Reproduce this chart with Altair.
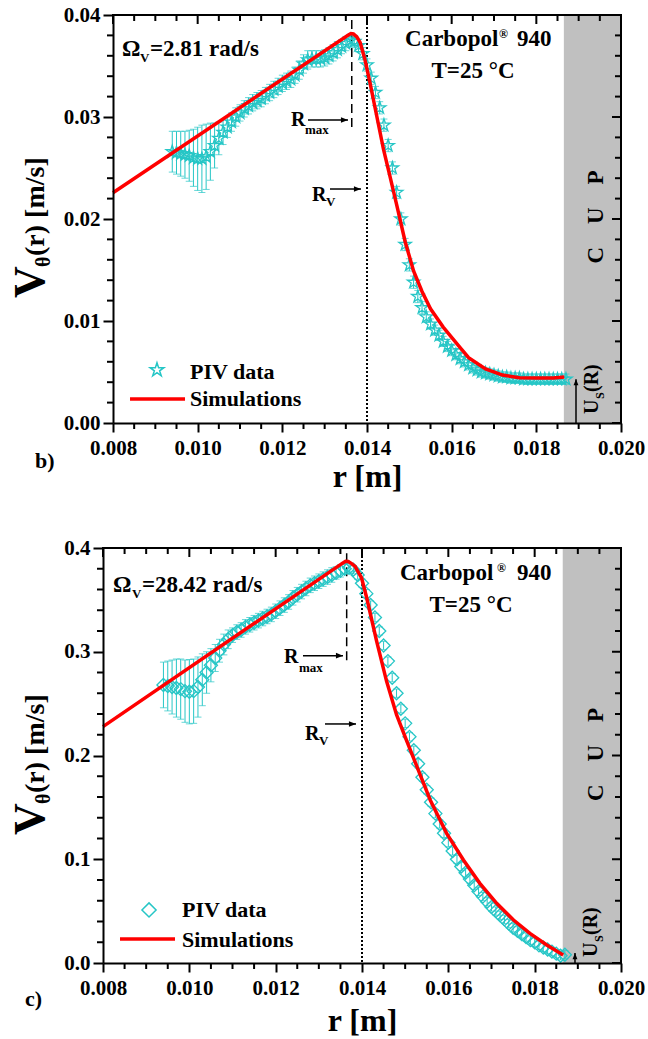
import altair as alt
import pandas as pd

FONT = "Liberation Serif"
CYAN = "#26c6c6"
RED = "#ff0000"
GRAY = "#c0c0c0"
SP = "\u2002\u2002"

# ---------------- data ----------------
r_piv = [0.0094, 0.0095, 0.0096, 0.0097, 0.0098, 0.0099, 0.0100, 0.0101, 0.0102, 0.0103,
         0.0104, 0.0105, 0.0106, 0.0107, 0.0108, 0.0109, 0.0110, 0.0111, 0.0112, 0.0113,
         0.0114, 0.0115, 0.0116, 0.0117, 0.0118, 0.0119, 0.0120, 0.0121, 0.0122, 0.0123,
         0.0124, 0.0125, 0.0126, 0.0127, 0.0128, 0.0129, 0.0130, 0.0131, 0.0132, 0.0133,
         0.0134, 0.0135, 0.0136, 0.0137, 0.0138, 0.0139, 0.0140, 0.0141, 0.0142, 0.0143,
         0.0144, 0.0145, 0.0146, 0.0147, 0.0148, 0.0149, 0.0150, 0.0151, 0.0152, 0.0153,
         0.0154, 0.0155, 0.0156, 0.0157, 0.0158, 0.0159, 0.0160, 0.0161, 0.0162, 0.0163,
         0.0164, 0.0165, 0.0166, 0.0167, 0.0168, 0.0169, 0.0170, 0.0171, 0.0172, 0.0173,
         0.0174, 0.0175, 0.0176, 0.0177, 0.0178, 0.0179, 0.0180, 0.0181, 0.0182, 0.0183,
         0.0184, 0.0185, 0.0186, 0.0187]

# panel b) : Omega = 2.81 rad/s
v_piv_b = [0.0266, 0.0265, 0.0264, 0.0263, 0.0262, 0.0260, 0.0259, 0.0259, 0.0261, 0.0266,
           0.0272, 0.0279, 0.0285, 0.0290, 0.0295, 0.0300, 0.0304, 0.0308, 0.0311, 0.0314,
           0.0316, 0.0318, 0.0321, 0.0324, 0.0327, 0.0330, 0.0333, 0.0335, 0.0337, 0.0341,
           0.0346, 0.0352, 0.0356, 0.0357, 0.0357, 0.0357, 0.0358, 0.0360, 0.0363, 0.0366,
           0.0369, 0.0372, 0.0375, 0.0374, 0.0370, 0.0362, 0.0351, 0.0338, 0.0324, 0.0309,
           0.0292, 0.0272, 0.0250, 0.0226, 0.0200, 0.0175, 0.0155, 0.0138, 0.0124, 0.0113,
           0.0104, 0.0097, 0.0091, 0.0086, 0.0080, 0.0075, 0.0071, 0.0067, 0.0063, 0.0060,
           0.0057, 0.0054, 0.0052, 0.0050, 0.0049, 0.0048, 0.0047, 0.0046, 0.0045, 0.0045,
           0.0044, 0.0044, 0.0044, 0.0043, 0.0043, 0.0043, 0.0043, 0.0043, 0.0043, 0.0043,
           0.0043, 0.0043, 0.0043, 0.0043]
e_piv_b = [0.0020, 0.0021, 0.0022, 0.0023, 0.0025, 0.0028, 0.0031, 0.0033, 0.0032, 0.0028,
           0.0022, 0.0016, 0.0012, 0.0010, 0.0009, 0.0009, 0.0008, 0.0008, 0.0008, 0.0008,
           0.0008, 0.0008, 0.0008, 0.0008, 0.0008, 0.0008, 0.0008, 0.0008, 0.0008, 0.0008,
           0.0009, 0.0009, 0.0009, 0.0008, 0.0008, 0.0008, 0.0008, 0.0008, 0.0008, 0.0008,
           0.0007, 0.0007, 0.0006, 0.0006, 0.0006, 0.0006, 0.0006, 0.0006, 0.0006, 0.0006,
           0.0006, 0.0006, 0.0006, 0.0006, 0.0006, 0.0006, 0.0006, 0.0006, 0.0006, 0.0006,
           0.0005, 0.0005, 0.0005, 0.0005, 0.0005, 0.0005, 0.0005, 0.0005, 0.0005, 0.0005,
           0.0005, 0.0005, 0.0005, 0.0005, 0.0005, 0.0005, 0.0005, 0.0005, 0.0005, 0.0005,
           0.0005, 0.0005, 0.0005, 0.0005, 0.0005, 0.0005, 0.0005, 0.0005, 0.0005, 0.0005,
           0.0005, 0.0005, 0.0005, 0.0005]
r_sim_b = [0.0080, 0.01355, 0.01362, 0.01368, 0.01376, 0.01384, 0.01395, 0.01407, 0.01423,
           0.01439, 0.01454, 0.01470, 0.01490, 0.01510, 0.01530, 0.01550, 0.01580, 0.01620,
           0.01640, 0.01680, 0.01720, 0.01760, 0.01800, 0.01840, 0.01866]
v_sim_b = [0.02258, 0.03802, 0.03818, 0.03815, 0.03785, 0.03728, 0.03565, 0.03336, 0.03010,
           0.02683, 0.02422, 0.02140, 0.01780, 0.01490, 0.01290, 0.01120, 0.00940, 0.00740,
           0.00640, 0.00530, 0.00470, 0.00444, 0.00440, 0.00442, 0.00450]

# panel c) : Omega = 28.42 rad/s
v_piv_c = [0.268, 0.267, 0.266, 0.265, 0.264, 0.262, 0.2615, 0.262, 0.266, 0.273,
           0.280, 0.287, 0.294, 0.301, 0.307, 0.312, 0.316, 0.319, 0.321, 0.324,
           0.326, 0.328, 0.330, 0.332, 0.334, 0.336, 0.339, 0.342, 0.345, 0.348,
           0.352, 0.355, 0.358, 0.361, 0.364, 0.366, 0.368, 0.370, 0.372, 0.374,
           0.376, 0.378, 0.380, 0.381, 0.379, 0.374, 0.366, 0.356, 0.345, 0.333,
           0.320, 0.306, 0.291, 0.275, 0.260, 0.245, 0.231, 0.218, 0.205, 0.192,
           0.179, 0.167, 0.155, 0.144, 0.134, 0.125, 0.116, 0.108, 0.100, 0.093,
           0.087, 0.081, 0.075, 0.069, 0.064, 0.059, 0.054, 0.050, 0.046, 0.042,
           0.038, 0.034, 0.031, 0.028, 0.025, 0.022, 0.020, 0.017, 0.015, 0.013,
           0.011, 0.009, 0.007, 0.008]
e_piv_c = [0.022, 0.024, 0.026, 0.028, 0.029, 0.030, 0.031, 0.031, 0.029, 0.025,
           0.020, 0.016, 0.013, 0.011, 0.010, 0.009, 0.007, 0.007, 0.007, 0.007,
           0.007, 0.007, 0.007, 0.007, 0.007, 0.007, 0.007, 0.007, 0.007, 0.007,
           0.007, 0.007, 0.007, 0.007, 0.007, 0.007, 0.007, 0.007, 0.007, 0.007,
           0.006, 0.006, 0.005, 0.004, 0.004, 0.004, 0.004, 0.004, 0.004, 0.004,
           0.004, 0.004, 0.004, 0.004, 0.004, 0.004, 0.004, 0.004, 0.004, 0.004,
           0.004, 0.004, 0.004, 0.004, 0.004, 0.004, 0.004, 0.004, 0.004, 0.004,
           0.004, 0.004, 0.004, 0.004, 0.004, 0.004, 0.004, 0.004, 0.004, 0.004,
           0.004, 0.004, 0.004, 0.004, 0.004, 0.004, 0.004, 0.004, 0.004, 0.004,
           0.004, 0.004, 0.004, 0.004]
r_sim_c = [0.0080, 0.01355, 0.01362, 0.01368, 0.01376, 0.01384, 0.01399, 0.01411, 0.01434,
           0.01457, 0.01480, 0.01504, 0.01527, 0.01558, 0.01596, 0.01635, 0.01673, 0.01712,
           0.01751, 0.01789, 0.01828, 0.01866]
v_sim_c = [0.2278, 0.3854, 0.3872, 0.3870, 0.3850, 0.3823, 0.3711, 0.3518, 0.3100,
           0.2715, 0.2393, 0.2137, 0.1896, 0.1571, 0.1250, 0.0993, 0.0768, 0.0575,
           0.0414, 0.0286, 0.0173, 0.0077]

# ticks
x_major = [0.008, 0.010, 0.012, 0.014, 0.016, 0.018, 0.020]
x_minor = [0.0085, 0.0090, 0.0095, 0.0105, 0.0110, 0.0115, 0.0125, 0.0130, 0.0135,
           0.0145, 0.0150, 0.0155, 0.0165, 0.0170, 0.0175, 0.0185, 0.0190, 0.0195]
y_major_b = [0.00, 0.01, 0.02, 0.03, 0.04]
y_minor_b = [0.002, 0.004, 0.006, 0.008, 0.012, 0.014, 0.016, 0.018,
             0.022, 0.024, 0.026, 0.028, 0.032, 0.034, 0.036, 0.038]
y_major_c = [0.0, 0.1, 0.2, 0.3, 0.4]
y_minor_c = [0.02, 0.04, 0.06, 0.08, 0.12, 0.14, 0.16, 0.18,
             0.22, 0.24, 0.26, 0.28, 0.32, 0.34, 0.36, 0.38]

R_wall = 0.01865
R_V = 0.014

STAR = ("M0,-1L0.2245,-0.309L0.951,-0.309L0.363,0.118L0.588,0.809L0,0.382"
        "L-0.588,0.809L-0.363,0.118L-0.951,-0.309L-0.2245,-0.309Z")
HEAD_R = "M0,0L-1,-0.4L-1,0.4Z"
HEAD_U = "M0,0L-0.4,1L0.4,1Z"


def make_panel(x0, W, H, ydom, ymaj, ymin, yfmt, vpiv, epiv, rsim, vsim, shape, symsize,
               cap, ann):
    # x0: left edge of the plot frame inside the panel group
    xs = alt.Scale(domain=[0.008, 0.020], nice=False, zero=False, range=[x0, W])
    ys = alt.Scale(domain=ydom, nice=False, zero=False)
    xax = alt.Axis(values=x_major, format=".3f", title="r [m]", titleY=ann["titleY"],
                   titleBaseline="alphabetic", titleFont=FONT, titleFontSize=32,
                   titleFontWeight="bold", titleColor="black",
                   labelFont=FONT, labelFontSize=21, labelFontWeight="bold",
                   labelColor="black", labelPadding=5, labelFlush=False,
                   tickSize=9, tickWidth=2, tickColor="black", domainColor="black",
                   domainWidth=2, grid=False, zindex=1)
    ykw = dict(values=ymaj, format=yfmt, title=None,
               labelFont=FONT, labelFontSize=21, labelFontWeight="bold",
               labelColor="black", labelPadding=3, labelFlush=False,
               tickSize=10, tickWidth=2, tickColor="black", domainColor="black",
               domainWidth=2, grid=False, zindex=1)
    if x0:
        ykw["offset"] = -x0
    yax = alt.Axis(**ykw)

    def X(f):
        return alt.X(f, type="quantitative", scale=xs, axis=xax)

    def Y(f):
        return alt.Y(f, type="quantitative", scale=ys, axis=yax)

    def dtext(txt, r, v, size, angle=0, align="left", baseline="alphabetic"):
        return alt.Chart(pd.DataFrame({"r": [r], "v": [v], "t": [txt]})).mark_text(
            font=FONT, fontWeight="bold", fontSize=size, angle=angle, align=align,
            baseline=baseline, color="black").encode(x=X("r"), y=Y("v"), text="t:N")

    def ptext(txt, x, y, size, angle=0):
        return alt.Chart(pd.DataFrame({"t": [txt]})).mark_text(
            font=FONT, fontWeight="bold", fontSize=size, angle=angle, align="left",
            baseline="alphabetic", color="black").encode(
            x=alt.value(x0 + x), y=alt.value(y), text="t:N")

    def symbols(df, size, sw):
        return alt.Chart(df).mark_point(
            shape=shape, size=size, filled=False, color=CYAN, strokeWidth=sw,
            opacity=1).encode(x=X("r"), y=Y("v"))

    def harrow(r0, r1, v):
        line = alt.Chart(pd.DataFrame({"r": [r0], "r2": [r1], "v": [v]})).mark_rule(
            color="black", strokeWidth=1.5).encode(x=X("r"), x2="r2", y=Y("v"))
        head = alt.Chart(pd.DataFrame({"r": [r1], "v": [v]})).mark_point(
            shape=HEAD_R, size=200, filled=True, color="black", opacity=1,
            strokeWidth=0).encode(x=X("r"), y=Y("v"))
        return [line, head]

    piv = pd.DataFrame({"r": r_piv, "v": vpiv, "e": epiv})
    piv["lo"] = piv["v"] - piv["e"]
    piv["hi"] = piv["v"] + piv["e"]
    sim = pd.DataFrame({"r": rsim, "v": vsim})

    layers = []
    layers.append(alt.Chart(pd.DataFrame({"r": [R_wall], "r2": [0.020]})).mark_rect(
        color=GRAY).encode(x=X("r"), x2="r2", y=alt.value(0), y2=alt.value(H)))
    layers.append(alt.Chart(pd.DataFrame({"r": [R_V]})).mark_rule(
        color="black", strokeWidth=2, strokeDash=[2, 2]).encode(
        x=X("r"), y=alt.value(0), y2=alt.value(H)))
    layers.append(alt.Chart(pd.DataFrame({"r": [ann["rmax"]], "v": [ann["dash"][0]],
                                          "v2": [ann["dash"][1]]})).mark_rule(
        color="black", strokeWidth=1.5, strokeDash=[9, 5]).encode(
        x=X("r"), y=Y("v"), y2="v2"))
    layers.append(alt.Chart(piv).mark_rule(color=CYAN, strokeWidth=1).encode(
        x=X("r"), y=Y("lo"), y2="hi"))
    layers.append(alt.Chart(piv).mark_tick(color=CYAN, orient="horizontal", size=cap,
                                           thickness=1).encode(x=X("r"), y=Y("lo")))
    layers.append(alt.Chart(piv).mark_tick(color=CYAN, orient="horizontal", size=cap,
                                           thickness=1).encode(x=X("r"), y=Y("hi")))
    layers.append(symbols(piv, symsize, 1.3))
    layers.append(alt.Chart(sim).mark_line(color=RED, strokeWidth=3.5).encode(
        x=X("r"), y=Y("v")))

    lg = ann["legend"]
    layers.append(symbols(pd.DataFrame({"r": [lg["sym"][0]], "v": [lg["sym"][1]]}),
                          lg["symsize"], 1.5))
    layers.append(dtext("PIV data", lg["txt_r"], lg["piv_v"], 22))
    layers.append(alt.Chart(pd.DataFrame({"r": [lg["line"][0]], "r2": [lg["line"][1]],
                                          "v": [lg["line"][2]]})).mark_rule(
        color=RED, strokeWidth=3.5).encode(x=X("r"), x2="r2", y=Y("v")))
    layers.append(dtext("Simulations", lg["txt_r"], lg["sim_v"], 22))

    om = ann["omega"]
    layers.append(dtext("\u03a9", om[0], om[3], 23))
    layers.append(dtext("V", om[1], om[4], 13))
    layers.append(dtext(om[5], om[2], om[3], 23))
    cb = ann["carb"]
    layers.append(dtext("Carbopol", cb[0], cb[3], 23))
    layers.append(dtext("\u00ae", cb[1], cb[4], 12))
    layers.append(dtext("940", cb[2], cb[3], 23))
    layers.append(dtext("T=25 \u00b0C", cb[5], cb[6], 23, align="center"))
    rm = ann["rmaxlab"]
    layers.append(dtext("R", rm[0], rm[2], 20))
    layers.append(dtext("max", rm[1], rm[3], 13))
    layers += harrow(rm[4], rm[5], rm[6])
    rv = ann["rvlab"]
    layers.append(dtext("R", rv[0], rv[2], 20))
    layers.append(dtext("V", rv[1], rv[3], 13))
    layers += harrow(rv[4], rv[5], rv[6])
    cu = ann["cup"]
    layers.append(dtext("C" + SP + "U" + SP + "P", cu[0], cu[1], 23, angle=270,
                        align="center"))
    us = ann["us"]
    layers.append(dtext("U", us[0], us[1], 20, angle=270))
    layers.append(dtext("S", us[2], us[3], 12, angle=270))
    layers.append(dtext("(R)", us[0], us[4], 20, angle=270))
    layers.append(alt.Chart(pd.DataFrame({"r": [us[5]], "v": [ydom[0]], "v2": [us[6]]})).mark_rule(
        color="black", strokeWidth=1.5).encode(x=X("r"), y=Y("v"), y2="v2"))
    layers.append(alt.Chart(pd.DataFrame({"r": [us[5]], "v": [us[6]]})).mark_point(
        shape=HEAD_U, size=150, filled=True, color="black", opacity=1,
        strokeWidth=0).encode(x=X("r"), y=Y("v")))

    xt = pd.DataFrame({"t": x_major + x_minor,
                       "len": [9] * len(x_major) + [6] * len(x_minor)})
    yt = pd.DataFrame({"t": ymaj + ymin,
                       "len": [9] * len(ymaj) + [6] * len(ymin)})
    layers.append(alt.Chart(pd.DataFrame({"t": x_minor})).mark_rule(
        color="black", strokeWidth=2).encode(x=X("t"), y=alt.value(H), y2=alt.value(H + 6)))
    layers.append(alt.Chart(pd.DataFrame({"t": ymin})).mark_rule(
        color="black", strokeWidth=2).encode(y=Y("t"), x=alt.value(x0), x2=alt.value(x0 - 6)))
    for ln in (9, 6):
        layers.append(alt.Chart(xt[xt["len"] == ln]).mark_rule(color="black", strokeWidth=2).encode(
            x=X("t"), y=alt.value(0), y2=alt.value(ln)))
        layers.append(alt.Chart(yt[yt["len"] == ln]).mark_rule(color="black", strokeWidth=2).encode(
            y=Y("t"), x=alt.value(W), x2=alt.value(W - ln)))
    layers.append(alt.Chart(pd.DataFrame({"t": [0]})).mark_rule(color="black", strokeWidth=2).encode(
        x=alt.value(W), y=alt.value(-1), y2=alt.value(H + 1)))
    layers.append(alt.Chart(pd.DataFrame({"t": [0]})).mark_rule(color="black", strokeWidth=2).encode(
        x=alt.value(x0 - 1), x2=alt.value(W + 1), y=alt.value(0)))

    yt_ = ann["ytitle"]
    layers.append(ptext("V", yt_[0], yt_[1], 44, angle=270))
    layers.append(ptext("\u03b8", yt_[2], yt_[3], 20, angle=270))
    layers.append(ptext("(r) [m/s]", yt_[0], yt_[4], 28, angle=270))
    layers.append(ptext(ann["letter"], ann["letter_xy"][0], ann["letter_xy"][1], 22))

    return alt.layer(*layers).properties(width=W, height=H)


ann_b = dict(
    titleY=63,
    rmax=0.01364, dash=(0.0395, 0.0289),
    legend=dict(sym=(0.009039, 0.0052), symsize=210, txt_r=0.009819, piv_v=0.00431,
                line=(0.008402, 0.009701, 0.00235), sim_v=0.00167),
    omega=(0.008213, 0.008638, 0.008874, 0.03598, 0.03539, "=2.81 rad/s"),
    carb=(0.014898, 0.017120, 0.017543, 0.03696, 0.03775, 0.016504, 0.03382),
    rmaxlab=(0.012205, 0.012535, 0.02912, 0.02833, 0.012606, 0.013551, 0.02971),
    rvlab=(0.012701, 0.013031, 0.02176, 0.02127, 0.013126, 0.013858, 0.02294),
    cup=(0.019575, 0.0202),
    us=(0.019457, 0.00088, 0.019599, 0.00235, 0.00304, 0.018937, 0.0043),
    ytitle=(-69, 283, -63, 252, 241),
    letter="b)", letter_xy=(-78, 453),
)
ann_c = dict(
    titleY=67,
    rmax=0.013645, dash=(0.395, 0.289),
    legend=dict(sym=(0.009066, 0.0511), symsize=200, txt_r=0.00983, piv_v=0.0443,
                line=(0.008394, 0.009668, 0.0231), sim_v=0.0154),
    omega=(0.008232, 0.008672, 0.008903, 0.3579, 0.3518, "=28.42 rad/s"),
    carb=(0.014880, 0.017127, 0.017591, 0.3692, 0.3769, 0.016525, 0.3386),
    rmaxlab=(0.012193, 0.012541, 0.2892, 0.2805, 0.012633, 0.013560, 0.2962),
    rvlab=(0.012680, 0.013004, 0.2149, 0.2101, 0.013143, 0.013861, 0.2304),
    cup=(0.019583, 0.2010),
    us=(0.019444, 0.0058, 0.019583, 0.0202, 0.0270, 0.018934, 0.0096),
    ytitle=(-59, 287, -53, 256, 245),
    letter="c)", letter_xy=(-78, 458),
)

top = make_panel(10, 518, 408, [0.0, 0.04], y_major_b, y_minor_b, ".2f",
                 v_piv_b, e_piv_b, r_sim_b, v_sim_b, STAR, 170, 7, ann_b)
bottom = make_panel(0, 518, 415, [0.0, 0.4], y_major_c, y_minor_c, ".1f",
                    v_piv_c, e_piv_c, r_sim_c, v_sim_c, "diamond", 170, 7, ann_c)

chart = alt.concat(top, bottom, columns=1, spacing=45, align="none").properties(
    padding={"left": 9, "top": 4, "right": 0, "bottom": 0},
    background="white",
).configure_view(stroke="transparent", strokeWidth=0)

chart.save("out.html", embed_options={"renderer": "svg", "actions": False})
